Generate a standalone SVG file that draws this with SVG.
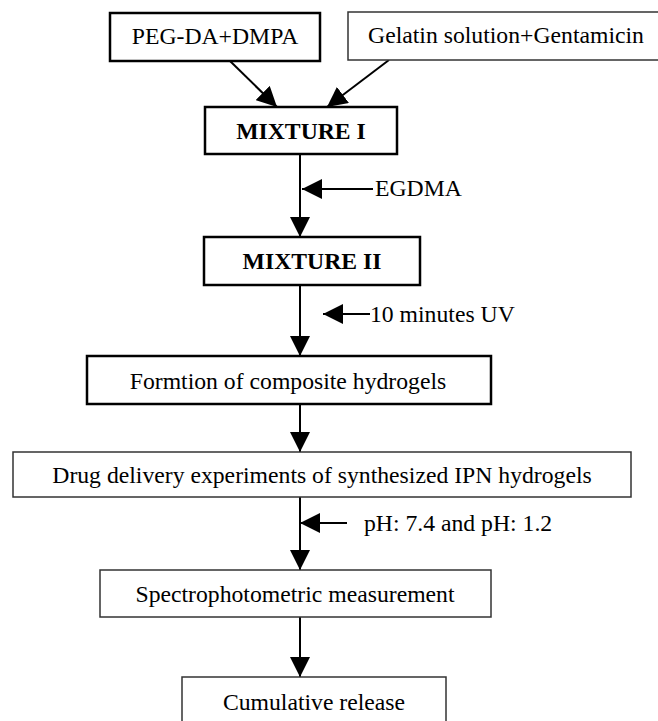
<svg xmlns="http://www.w3.org/2000/svg" width="658" height="721" viewBox="0 0 658 721">
<style>
  .bg { fill: #ffffff; }
  .thick { fill: #ffffff; stroke: #000000; stroke-width: 2.5; }
  .thin { fill: #ffffff; stroke: #333333; stroke-width: 1.5; }
  .t { font-family: "Liberation Serif", "Times New Roman", serif; font-size: 23.7px; fill: #000000; text-anchor: middle; }
  .ts { font-family: "Liberation Serif", "Times New Roman", serif; font-size: 23.7px; fill: #000000; text-anchor: start; }
  .b { font-weight: bold; }
  .c { stroke: #000000; stroke-width: 2; fill: none; }
</style>
<defs>
  <marker id="ah" markerUnits="userSpaceOnUse" markerWidth="20" markerHeight="20" refX="20" refY="10" orient="auto">
    <path d="M0,0 L20,10 L0,20 Z" fill="#000000"/>
  </marker>
</defs>
<rect class="bg" x="0" y="0" width="658" height="721"/>

<g id="connectors">
  <line class="c" x1="230" y1="61" x2="277" y2="107" marker-end="url(#ah)"/>
  <line class="c" x1="389" y1="60" x2="327" y2="107" marker-end="url(#ah)"/>
  <line class="c" x1="300" y1="154" x2="300" y2="237" marker-end="url(#ah)"/>
  <line class="c" x1="373" y1="189" x2="302" y2="189" marker-end="url(#ah)"/>
  <line class="c" x1="300" y1="285" x2="300" y2="356" marker-end="url(#ah)"/>
  <line class="c" x1="370" y1="314" x2="323" y2="314" marker-end="url(#ah)"/>
  <line class="c" x1="300" y1="404" x2="300" y2="452" marker-end="url(#ah)"/>
  <line class="c" x1="347" y1="523" x2="300" y2="523" marker-end="url(#ah)"/>
  <line class="c" x1="300" y1="497" x2="300" y2="570" marker-end="url(#ah)"/>
  <line class="c" x1="300" y1="617" x2="300" y2="677" marker-end="url(#ah)"/>
</g>

<g id="peg">
  <rect class="thick" x="110" y="13" width="210" height="48"/>
  <text class="t" x="215" y="44">PEG-DA+DMPA</text>
</g>
<g id="gelatin">
  <rect class="thin" x="348" y="12" width="320" height="48"/>
  <text class="t" x="506" y="43">Gelatin solution+Gentamicin</text>
</g>
<g id="mix1">
  <rect class="thick" x="205" y="107" width="192" height="47"/>
  <text class="t b" x="301" y="139">MIXTURE I</text>
</g>
<g id="egdma">
  <text class="ts" x="375" y="196">EGDMA</text>
</g>
<g id="mix2">
  <rect class="thick" x="204" y="237" width="216" height="48"/>
  <text class="t b" x="312" y="269">MIXTURE II</text>
</g>
<g id="uv">
  <text class="ts" x="370" y="322">10 minutes UV</text>
</g>
<g id="formation">
  <rect class="thick" x="87" y="356" width="404" height="48"/>
  <text class="t" x="288" y="389">Formtion of composite hydrogels</text>
</g>
<g id="drug">
  <rect class="thin" x="13" y="452" width="618" height="45"/>
  <text class="t" x="322" y="483">Drug delivery experiments of synthesized IPN hydrogels</text>
</g>
<g id="ph">
  <text class="ts" x="364" y="531">pH: 7.4 and pH: 1.2</text>
</g>
<g id="spectro">
  <rect class="thin" x="100" y="570" width="391" height="47"/>
  <text class="t" x="295" y="602">Spectrophotometric measurement</text>
</g>
<g id="cumulative">
  <rect class="thin" x="182" y="677" width="264" height="48"/>
  <text class="t" x="314" y="710">Cumulative release</text>
</g>
</svg>
